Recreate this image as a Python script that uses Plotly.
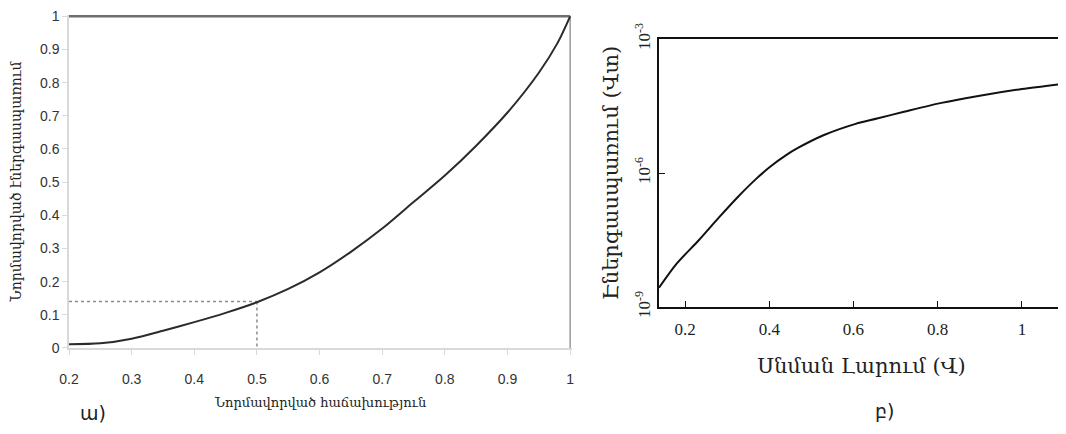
import plotly.graph_objects as go

# Left panel (ա) data
freq = [0.2, 0.25, 0.3, 0.35, 0.4, 0.45, 0.5, 0.55, 0.6, 0.65, 0.7, 0.75, 0.8, 0.85, 0.9, 0.95, 0.98, 1.0]
energy = [0.011, 0.014, 0.028, 0.052, 0.078, 0.106, 0.138, 0.178, 0.228, 0.29, 0.36, 0.44, 0.52, 0.61, 0.71, 0.83, 0.92, 1.0]
ref_x = 0.5
ref_y = 0.14
left_xticks = [0.2, 0.3, 0.4, 0.5, 0.6, 0.7, 0.8, 0.9, 1]
left_yticks = [0, 0.1, 0.2, 0.3, 0.4, 0.5, 0.6, 0.7, 0.8, 0.9, 1]

# Right panel (բ) data
voltage = [0.138, 0.18, 0.233, 0.28, 0.327, 0.37, 0.402, 0.44, 0.468, 0.53, 0.605, 0.656, 0.72, 0.809, 0.9, 1.0, 1.1]
power = [10**-8.57, 10**-8.03, 10**-7.5, 10**-7.0, 10**-6.52, 10**-6.12, 10**-5.86, 10**-5.6, 10**-5.44, 10**-5.15, 10**-4.9, 10**-4.78, 10**-4.63, 10**-4.43, 10**-4.27, 10**-4.12, 10**-4.0]
right_xticks = [0.2, 0.4, 0.6, 0.8, 1]
right_yticks = [1e-9, 1e-6, 1e-3]
right_yticktext = ["10<sup>-9</sup>", "10<sup>-6</sup>", "10<sup>-3</sup>"]

fig = go.Figure()

# left panel traces
fig.add_trace(go.Scatter(x=[left_xticks[0], ref_x], y=[ref_y, ref_y], mode="lines",
                         line=dict(color="#8c8c8c", width=1.5, dash="dot"), xaxis="x", yaxis="y", showlegend=False))
fig.add_trace(go.Scatter(x=[ref_x, ref_x], y=[ref_y, 0], mode="lines",
                         line=dict(color="#8c8c8c", width=1.5, dash="dot"), xaxis="x", yaxis="y", showlegend=False))
fig.add_trace(go.Scatter(x=[left_xticks[0], 1], y=[1, 1], mode="lines",
                         line=dict(color="#6e6e6e", width=2.5), xaxis="x", yaxis="y", showlegend=False))
fig.add_trace(go.Scatter(x=[1, 1], y=[0, 1], mode="lines",
                         line=dict(color="#9a9a9a", width=1.5), xaxis="x", yaxis="y", showlegend=False))
fig.add_trace(go.Scatter(x=freq, y=energy, mode="lines", line=dict(color="#2b2b2b", width=2, shape="spline", smoothing=0.8),
                         xaxis="x", yaxis="y", showlegend=False))

# right panel trace
fig.add_trace(go.Scatter(x=voltage, y=power, mode="lines", line=dict(color="#111111", width=2, shape="spline", smoothing=0.8),
                         xaxis="x2", yaxis="y2", showlegend=False))

sans = "Liberation Sans Narrow, Liberation Sans, Arial"
serif = "Liberation Serif, Times New Roman, serif"
arm_serif = "DejaVu Serif, serif"

W, H = 1058, 426  # page body has an 8px margin

fig.update_layout(
    width=W, height=H,
    margin=dict(l=0, r=0, t=0, b=0, autoexpand=False),
    paper_bgcolor="white", plot_bgcolor="white",
    xaxis=dict(domain=[0.05766, 0.5331], range=[0.2, 1.003], tickvals=left_xticks,
               ticktext=[str(v) for v in left_xticks], automargin=False,
               showline=True, linecolor="#d9d9d9", linewidth=1.5, ticks="outside", tickcolor="#d9d9d9",
               ticklen=5, showgrid=False, zeroline=False, ticklabelstandoff=12,
               tickfont=dict(family=sans, size=14, color="#333333"),
               title=dict(text="Նորմավորված հաճախություն", font=dict(family=arm_serif, size=13, color="#222222"), standoff=12)),
    yaxis=dict(domain=[0.2019, 0.98357], range=[0, 1.004], tickvals=left_yticks,
               ticktext=[str(v) for v in left_yticks], automargin=False,
               showline=True, linecolor="#d9d9d9", linewidth=1.5, ticks="outside", tickcolor="#d9d9d9",
               ticklen=5, showgrid=False, zeroline=False,
               tickfont=dict(family=sans, size=14, color="#333333"),
               title=dict(text="Նորմավորված էներգասպառում", font=dict(family=arm_serif, size=14, color="#222222"), standoff=20)),
    xaxis2=dict(domain=[0.6153, 0.9981], range=[0.138, 1.1], tickvals=right_xticks,
                ticktext=[str(v) for v in right_xticks], anchor="y2", automargin=False,
                showline=True, mirror=True, linecolor="#111111", linewidth=2, ticks="inside",
                tickcolor="#111111", ticklen=6, showgrid=False, zeroline=False, ticklabelstandoff=6,
                tickfont=dict(family=serif, size=17, color="#222222"),
                title=dict(text="Սնման Լարում (Վ)", font=dict(family=arm_serif, size=21, color="#222222"), standoff=20)),
    yaxis2=dict(domain=[0.2981, 0.92723], type="log", range=[-9, -3], tickvals=right_yticks,
                ticktext=right_yticktext, anchor="x2", tickangle=-90, automargin=False,
                showline=True, mirror=True, linecolor="#111111", linewidth=2, ticks="inside",
                tickcolor="#111111", ticklen=6, showgrid=False, zeroline=False,
                tickfont=dict(family=serif, size=17, color="#222222"),
                title=dict(text="Էներգասպառում (Վտ)", font=dict(family=arm_serif, size=21, color="#222222"), standoff=8)),
    annotations=[
        dict(text="ա)", x=(93 - 8) / W, y=1 - (413 - 8) / H, xref="paper", yref="paper", showarrow=False,
             xanchor="center", yanchor="middle",
             font=dict(family="DejaVu Sans", size=19, color="#222222")),
        dict(text="բ)", x=(884 - 8) / W, y=1 - (411 - 8) / H, xref="paper", yref="paper", showarrow=False,
             xanchor="center", yanchor="middle",
             font=dict(family="DejaVu Sans", size=19, color="#222222")),
    ],
)

fig.write_html("out.html")
